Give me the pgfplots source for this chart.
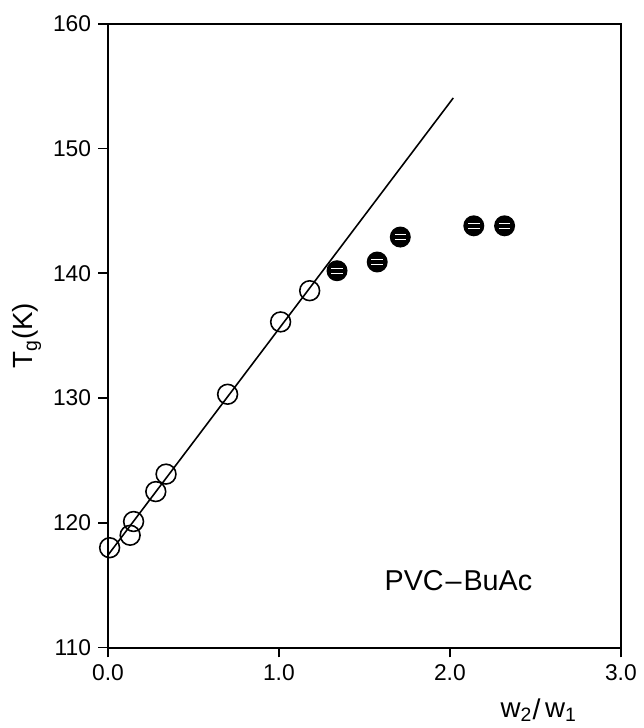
\documentclass[border=0pt]{standalone}
\usepackage{fontspec}
\setmainfont{Liberation Sans}
\usepackage{pgfplots}
\pgfplotsset{compat=1.18}

% filled ball with two white streaks, as in the original print
\pgfdeclareplotmark{hatchball}{%
  \pgfpathcircle{\pgfpointorigin}{\pgfplotmarksize}%
  \pgfusepathqfill
  \pgfsetstrokecolor{white}%
  \pgfsetlinewidth{0.45pt}%
  \pgfpathmoveto{\pgfpoint{-0.55\pgfplotmarksize}{0.22\pgfplotmarksize}}%
  \pgfpathlineto{\pgfpoint{0.55\pgfplotmarksize}{0.22\pgfplotmarksize}}%
  \pgfpathmoveto{\pgfpoint{-0.55\pgfplotmarksize}{-0.25\pgfplotmarksize}}%
  \pgfpathlineto{\pgfpoint{0.55\pgfplotmarksize}{-0.25\pgfplotmarksize}}%
  \pgfusepathqstroke
}

\begin{document}
\begin{tikzpicture}
\begin{axis}[
  width=259pt, height=315pt,
  scale only axis,
  xmin=0, xmax=3, ymin=110, ymax=160,
  xtick={0,1,2,3},
  ytick={110,120,...,160},
  tick align=outside,
  xtick pos=bottom, ytick pos=left,
  major tick length=5pt,
  axis line style={line width=1pt},
  every tick/.style={black, line width=0.9pt},
  xticklabel style={/pgf/number format/.cd, fixed, fixed zerofill, precision=1},
  /pgf/number format/assume math mode=true,
  tick label style={font=\fontsize{11.5}{13}\selectfont},
  xlabel={w\textsubscript{2}\raisebox{-1pt}{\Large/}\,w\textsubscript{1}},
  xlabel style={font=\fontsize{14}{16}\selectfont, at={(axis description cs:0.84,-0.1)}, anchor=center},
  ylabel={T\textsubscript{g}(K)},
  ylabel style={font=\fontsize{14}{16}\selectfont, at={(axis description cs:-0.158,0.5)}, anchor=center, rotate=0},
  clip=false,
]
% fitted straight line
\addplot[black, line width=0.8pt] coordinates {(0.0,117.4) (2.02,154.05)};
% open circles
\addplot[only marks, mark=o, mark size=5pt, mark options={line width=0.8pt, black}]
  coordinates {
  (0.01,118.0) (0.13,119.0) (0.15,120.1) (0.28,122.5) (0.34,123.9)
  (0.70,130.3) (1.01,136.1) (1.18,138.6)
};
% filled circles
\addplot[only marks, mark=hatchball, mark size=5.3pt, mark options={black, fill=black}]
  coordinates {
  (1.34,140.2) (1.575,140.9) (1.71,142.9) (2.14,143.8) (2.32,143.8)
};
\node[font=\fontsize{14.5}{16}\selectfont] at (axis cs:2.05,115.4) {PVC\kern1pt\textendash\kern1pt BuAc};
\coordinate (bl) at (rel axis cs:-0.2104,-0.1175);
\coordinate (tr) at (rel axis cs:1.0328,1.038);
\end{axis}
\path (bl) rectangle (tr);
\end{tikzpicture}
\end{document}
